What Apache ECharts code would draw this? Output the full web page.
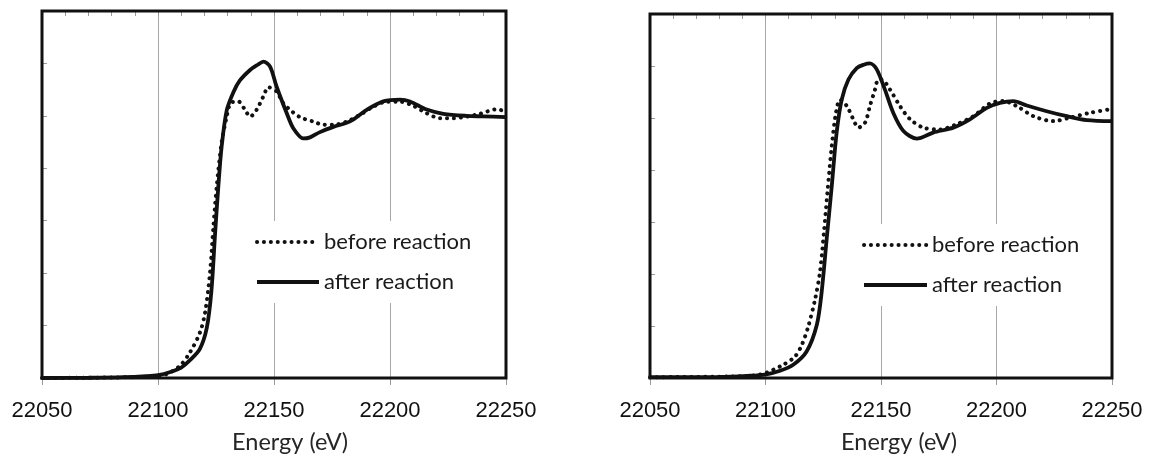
<!DOCTYPE html>
<html>
<head>
<meta charset="utf-8">
<script src="https://cdn.jsdelivr.net/npm/echarts@6/dist/echarts.min.js"></script>
<style>
  html, body { margin: 0; background: #fff; }
  #chart { width: 1151px; height: 459px; }
</style>
</head>
<body>
<div id="chart"></div>
<script>
// values: energy (eV) / normalized absorption
const xTicks = [22050, 22100, 22150, 22200, 22250]

// left panel
const leftBeforeE = [22050, 22080, 22096.6, 22103.7, 22109.5, 22113.8, 22118.1, 22120.3, 22122.4, 22123.9, 22125.3, 22127.4, 22129.6, 22131.3, 22134.6, 22137.5, 22139.7, 22142.5, 22145.4, 22147.6, 22151.1, 22154, 22156.9, 22161.2, 22167, 22171.3, 22175.6, 22181.3, 22187.1, 22192.8, 22198.6, 22204.3, 22210.1, 22215.8, 22221.6, 22227.3, 22233, 22238.8, 22246, 22250]
const leftBeforeV = [0, 0.002, 0.006, 0.015, 0.047, 0.098, 0.174, 0.25, 0.40, 0.58, 0.73, 0.896, 0.997, 1.048, 1.055, 1.023, 0.997, 1.023, 1.074, 1.109, 1.093, 1.048, 1.023, 0.995, 0.978, 0.966, 0.966, 0.978, 1.004, 1.035, 1.054, 1.054, 1.038, 1.01, 0.991, 0.991, 0.997, 1.008, 1.025, 1.016]
const leftAfterE = [22050, 22070, 22085, 22095, 22100, 22105, 22110, 22114, 22118, 22121, 22123, 22124.6, 22126, 22127.4, 22129.6, 22132.5, 22135.3, 22139.7, 22143, 22145.4, 22148.3, 22151.1, 22155.5, 22158.3, 22162.6, 22165.5, 22169.8, 22175.6, 22182.8, 22190, 22197.1, 22204.3, 22208.6, 22215.8, 22223, 22233, 22240.2, 22250]
const leftAfterV = [0, 0.001, 0.003, 0.007, 0.011, 0.022, 0.04, 0.07, 0.11, 0.19, 0.33, 0.55, 0.73, 0.88, 1.02, 1.09, 1.135, 1.175, 1.195, 1.207, 1.188, 1.112, 1.01, 0.953, 0.914, 0.918, 0.938, 0.958, 0.979, 1.023, 1.055, 1.062, 1.055, 1.024, 1.008, 1.0, 0.998, 0.995]

// right panel
const rightBeforeE = [22050, 22084.6, 22097.6, 22107.7, 22112.8, 22115.7, 22118.5, 22121.4, 22123.6, 22125.3, 22126.8, 22128.7, 22130.5, 22132.3, 22135.2, 22138, 22140.2, 22143.1, 22145.2, 22147.4, 22148.8, 22150.3, 22153.9, 22158.2, 22162.6, 22168.3, 22175.5, 22182.8, 22190, 22197.2, 22203, 22208.7, 22216, 22224.6, 22231.8, 22240.5, 22250]
const rightBeforeV = [0.003, 0.006, 0.013, 0.051, 0.083, 0.127, 0.198, 0.30, 0.408, 0.561, 0.714, 0.893, 1.02, 1.071, 1.046, 0.995, 0.963, 0.982, 1.046, 1.109, 1.148, 1.148, 1.109, 1.046, 0.995, 0.963, 0.956, 0.976, 1.007, 1.056, 1.065, 1.046, 1.007, 0.988, 1.001, 1.02, 1.035]
const rightAfterE = [22050, 22080, 22092, 22099.8, 22106.3, 22112, 22117.8, 22122.2, 22124.3, 22126.5, 22128.7, 22130.8, 22133, 22135.9, 22139.5, 22142.5, 22145.2, 22148.1, 22151.7, 22155.3, 22159.7, 22165.5, 22172.6, 22181.3, 22188.5, 22195.8, 22201.5, 22207.3, 22213.1, 22221.7, 22230.4, 22239.1, 22250]
const rightAfterV = [0.003, 0.004, 0.008, 0.013, 0.028, 0.051, 0.102, 0.204, 0.33, 0.536, 0.74, 0.944, 1.071, 1.148, 1.192, 1.205, 1.21, 1.188, 1.109, 1.02, 0.95, 0.921, 0.944, 0.963, 0.995, 1.039, 1.058, 1.065, 1.048, 1.026, 1.007, 0.992, 0.988]

const seriesNames = ['before reaction', 'after reaction']

function pairs (xs, ys) {
  return xs.map((x, i) => [x, ys[i]])
}

const chart = echarts.init(document.getElementById('chart'))

const labelFont = 'Liberation Sans, Arial, sans-serif'
const textFont = 'Lato, Open Sans, sans-serif'
const tickColor = '#9a9a9a'

// main x axis: labels, outside major ticks, gray grid lines
function mainX (gridIndex, shift) {
  return {
    type: 'value',
    gridIndex: gridIndex,
    min: xTicks[0],
    max: xTicks[xTicks.length - 1],
    interval: 50,
    axisLine: { show: false },
    axisTick: { inside: false, length: 7, lineStyle: { color: tickColor } },
    axisLabel: {
      margin: 22, fontSize: 22, fontFamily: labelFont, color: '#111',
      formatter: v => String(v)   // no thousands separator
    },
    splitLine: { show: true, lineStyle: { color: '#a8a8a8', width: 1 } },
    name: 'Energy (eV)',
    nameLocation: 'middle',
    nameGap: 52,
    nameTextStyle: { fontFamily: textFont, fontSize: 23.5, color: '#262626', padding: [0, 0, 0, shift] }
  }
}

// second x axis only for the small inside ticks every 10 eV
function minorX (gridIndex) {
  return {
    type: 'value',
    gridIndex: gridIndex,
    min: xTicks[0],
    max: xTicks[xTicks.length - 1],
    interval: 10,
    axisLine: { show: false },
    axisTick: { inside: true, length: 5, lineStyle: { color: tickColor } },
    axisLabel: { show: false },
    splitLine: { show: false }
  }
}

function yAx (gridIndex) {
  return {
    type: 'value',
    gridIndex: gridIndex,
    min: 0,
    max: 1.4,
    interval: 0.2,
    axisLine: { show: false },
    axisTick: { inside: true, length: 5, lineStyle: { color: tickColor } },
    axisLabel: { show: false },
    splitLine: { show: false }
  }
}

function legendAt (left, top, iconW) {
  return {
    data: seriesNames,
    orient: 'vertical',
    left: left,
    top: top,
    itemWidth: iconW,
    itemHeight: 14,
    itemGap: 18,
    padding: [10, 12, 10, 8],
    backgroundColor: '#fff',
    selectedMode: false,
    // hide the circle marker, keep only the line sample
    itemStyle: { opacity: 0, borderWidth: 0 },
    lineStyle: { width: 4 },
    textStyle: { fontFamily: textFont, fontSize: 22, color: '#1a1a1a' }
  }
}

const dotted = { color: '#111', width: 4, type: [0.1, 6.8], cap: 'round' }
const solid = { color: '#111', width: 3.8 }

function line (name, xIdx, yIdx, data, style) {
  return {
    name: name,
    type: 'line',
    xAxisIndex: xIdx,
    yAxisIndex: yIdx,
    data: data,
    symbol: 'none',
    smooth: 0.3,
    itemStyle: { color: '#111' },
    lineStyle: style
  }
}

chart.setOption({
  animation: false,
  backgroundColor: '#fff',
  grid: [
    { left: 42, top: 11, width: 464, height: 368, show: true, borderColor: '#111', borderWidth: 3, z: 1 },
    { left: 650, top: 14, width: 462, height: 366, show: true, borderColor: '#111', borderWidth: 3, z: 1 }
  ],
  xAxis: [mainX(0, 32), minorX(0), mainX(1, 36), minorX(1)],
  yAxis: [yAx(0), yAx(1)],
  legend: [legendAt(247, 221, 62), legendAt(854, 224, 63)],
  series: [
    line(seriesNames[0], 0, 0, pairs(leftBeforeE, leftBeforeV), dotted),
    line(seriesNames[1], 0, 0, pairs(leftAfterE, leftAfterV), solid),
    line(seriesNames[0], 2, 1, pairs(rightBeforeE, rightBeforeV), dotted),
    line(seriesNames[1], 2, 1, pairs(rightAfterE, rightAfterV), solid)
  ]
})
</script>
</body>
</html>
